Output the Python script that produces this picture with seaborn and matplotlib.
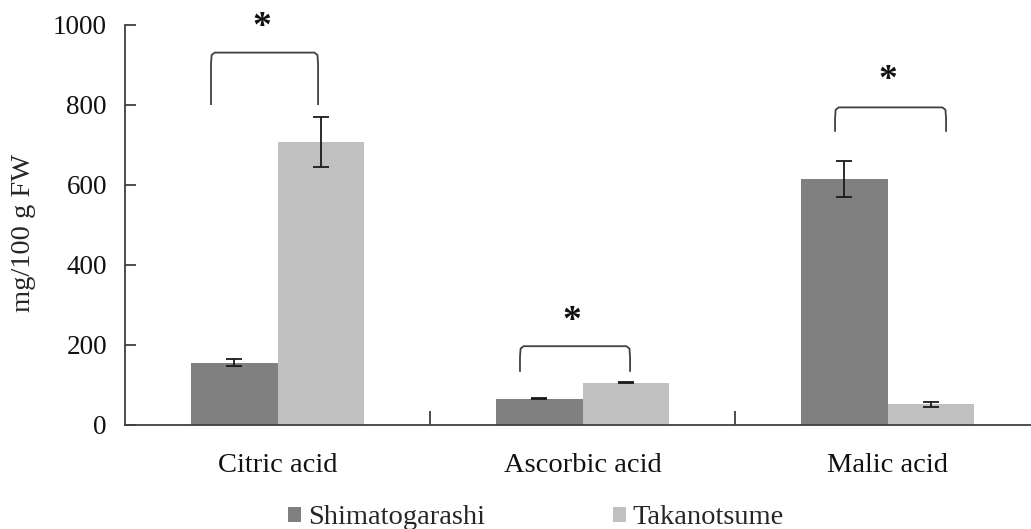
import numpy as np
import pandas as pd
import matplotlib
matplotlib.use("Agg")
import matplotlib.pyplot as plt
from matplotlib.patches import Patch
import seaborn as sns

categories = ["Citric acid", "Ascorbic acid", "Malic acid"]
cultivars = ["Shimatogarashi", "Takanotsume"]
shimatogarashi = [156, 66, 616]
takanotsume = [707, 106, 52]
shimatogarashi_err = [8, 2, 45]
takanotsume_err = [63, 2, 6]
yticks = [0, 200, 400, 600, 800, 1000]

# significance brackets: (left x, right x, bottom y, top y, star y)
brackets = [(-0.218, 0.133, 800, 931, 993),
            (0.795, 1.156, 133, 197, 258),
            (1.828, 2.192, 733, 794, 862)]

colors = ["#808080", "#c0c0c0"]

sns.set_theme(style="white")
plt.rcParams["font.family"] = ["Liberation Serif", "DejaVu Serif"]

df = pd.DataFrame({
    "category": categories * 2,
    "cultivar": [cultivars[0]] * 3 + [cultivars[1]] * 3,
    "value": shimatogarashi + takanotsume,
})
errs = shimatogarashi_err + takanotsume_err
vals = shimatogarashi + takanotsume

fig = plt.figure(figsize=(10.31, 5.29), dpi=100)
W, H = 1031, 529
ax = fig.add_axes([125 / W, (H - 425) / H, (W - 125) / W, 400 / H])

sns.barplot(data=df, x="category", y="value", hue="cultivar", order=categories,
            hue_order=cultivars, palette=colors, width=0.57, gap=0,
            errorbar=None, saturation=1, ax=ax, legend=False, linewidth=0)

for p in ax.patches:
    cx = p.get_x() + p.get_width() / 2
    h = p.get_height()
    idx = None
    for i, v in enumerate(vals):
        if abs(v - h) < 1e-6:
            idx = i
            break
    if idx is None:
        continue
    ax.errorbar(cx, h, yerr=errs[idx], fmt="none", ecolor="#1a1a1a",
                elinewidth=1.3, capsize=6, capthick=1.3, zorder=5)

line_col = "#404040"
for x1, x2, yb, yt, ys in brackets:
    r = 28
    dx = 0.012
    xs = [x1, x1, x1 + 0.002, x1 + dx, x2 - dx, x2 - 0.002, x2, x2]
    ys_ = [yb, yt - r, yt - 6, yt, yt, yt - 6, yt - r, yb]
    ax.plot(xs, ys_, color=line_col, lw=1.3, solid_capstyle="butt")
    ax.text((x1 + x2) / 2 - 0.01, ys, "*", ha="center", va="center",
            fontsize=27, fontweight="bold", color="#111111")

fs = 20.5
ax.set_xlim(-0.5, -0.5 + (W - 125) / 305)
ax.set_ylim(0, 1000)
ax.set_yticks(yticks)
ax.set_yticklabels([str(t) for t in yticks])
ax.set_xticks([0, 1, 2])
ax.set_xticklabels(categories)
ax.set_xlabel("")
ax.set_ylabel("mg/100 g FW", fontsize=fs)
ax.yaxis.set_label_coords((36 - 125) / (W - 125), 0.48)

for s in ["top", "right"]:
    ax.spines[s].set_visible(False)
for s in ["left", "bottom"]:
    ax.spines[s].set_color(line_col)
    ax.spines[s].set_linewidth(1.3)

ax.tick_params(axis="y", direction="in", length=8, width=1.3, color=line_col,
               labelsize=19.5, pad=13, left=True, labelcolor="#111111")
ax.tick_params(axis="x", length=0, labelsize=fs, pad=20, colors="#111111")
ax.set_xticks([0.5, 1.5], minor=True)
ax.tick_params(axis="x", which="minor", direction="in", length=10, width=1.3,
               color=line_col, bottom=True)

handles = [Patch(facecolor=c, edgecolor="none") for c in colors]
ax.legend(handles, cultivars, loc="center",
          bbox_to_anchor=((536 - 125) / (W - 125), (425 - 518) / 400),
          ncol=2, frameon=False, fontsize=fs, handlelength=0.45,
          handleheight=0.45, handletextpad=0.25, columnspacing=4.5,
          borderaxespad=0)

fig.savefig("out.png", dpi=100)
